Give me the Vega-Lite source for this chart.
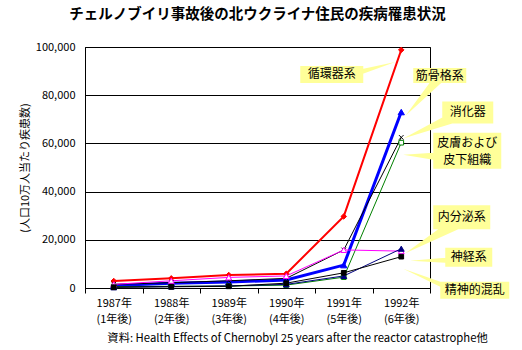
{
  "$schema": "https://vega.github.io/schema/vega-lite/v6.json",
  "width": 345,
  "height": 241,
  "autosize": {"type": "none"},
  "padding": {"left": 85, "top": 47, "right": 92, "bottom": 62},
  "background": "white",
  "title": {"text": "チェルノブイリ事故後の北ウクライナ住民の疾病罹患状況", "fontSize": 14.5, "fontWeight": "bold", "font": "Noto Sans CJK JP", "color": "black", "anchor": "middle", "offset": 19},
  "config": {
    "font": "Noto Sans CJK JP",
    "view": {"stroke": "black", "strokeWidth": 1},
    "axis": {"domainColor": "black", "labelColor": "black", "titleColor": "black", "tickColor": "black", "labelFontSize": 11, "titleFontSize": 11, "titleFontWeight": "normal", "labelFont": "Noto Sans CJK JP", "titleFont": "Noto Sans CJK JP"}
  },
  "data": {"values": [
    {"series": "循環器系", "year": "1987年 (1年後)", "value": 2900},
    {"series": "循環器系", "year": "1988年 (2年後)", "value": 4000},
    {"series": "循環器系", "year": "1989年 (3年後)", "value": 5400},
    {"series": "循環器系", "year": "1990年 (4年後)", "value": 5900},
    {"series": "循環器系", "year": "1991年 (5年後)", "value": 29700},
    {"series": "循環器系", "year": "1992年 (6年後)", "value": 98800},
    {"series": "筋骨格系", "year": "1987年 (1年後)", "value": 1000},
    {"series": "筋骨格系", "year": "1988年 (2年後)", "value": 2000},
    {"series": "筋骨格系", "year": "1989年 (3年後)", "value": 2500},
    {"series": "筋骨格系", "year": "1990年 (4年後)", "value": 3300},
    {"series": "筋骨格系", "year": "1991年 (5年後)", "value": 9500},
    {"series": "筋骨格系", "year": "1992年 (6年後)", "value": 73000},
    {"series": "消化器", "year": "1987年 (1年後)", "value": 1500},
    {"series": "消化器", "year": "1988年 (2年後)", "value": 2200},
    {"series": "消化器", "year": "1989年 (3年後)", "value": 3000},
    {"series": "消化器", "year": "1990年 (4年後)", "value": 4000},
    {"series": "消化器", "year": "1991年 (5年後)", "value": 15800},
    {"series": "消化器", "year": "1992年 (6年後)", "value": 62500},
    {"series": "皮膚および皮下組織", "year": "1987年 (1年後)", "value": 600},
    {"series": "皮膚および皮下組織", "year": "1988年 (2年後)", "value": 700},
    {"series": "皮膚および皮下組織", "year": "1989年 (3年後)", "value": 800},
    {"series": "皮膚および皮下組織", "year": "1990年 (4年後)", "value": 1200},
    {"series": "皮膚および皮下組織", "year": "1991年 (5年後)", "value": 4500},
    {"series": "皮膚および皮下組織", "year": "1992年 (6年後)", "value": 60300},
    {"series": "内分泌系", "year": "1987年 (1年後)", "value": 1500},
    {"series": "内分泌系", "year": "1988年 (2年後)", "value": 3000},
    {"series": "内分泌系", "year": "1989年 (3年後)", "value": 4400},
    {"series": "内分泌系", "year": "1990年 (4年後)", "value": 5000},
    {"series": "内分泌系", "year": "1991年 (5年後)", "value": 15800},
    {"series": "内分泌系", "year": "1992年 (6年後)", "value": 15300},
    {"series": "神経系", "year": "1987年 (1年後)", "value": 300},
    {"series": "神経系", "year": "1988年 (2年後)", "value": 600},
    {"series": "神経系", "year": "1989年 (3年後)", "value": 900},
    {"series": "神経系", "year": "1990年 (4年後)", "value": 1500},
    {"series": "神経系", "year": "1991年 (5年後)", "value": 5000},
    {"series": "神経系", "year": "1992年 (6年後)", "value": 16300},
    {"series": "精神的混乱", "year": "1987年 (1年後)", "value": 300},
    {"series": "精神的混乱", "year": "1988年 (2年後)", "value": 500},
    {"series": "精神的混乱", "year": "1989年 (3年後)", "value": 700},
    {"series": "精神的混乱", "year": "1990年 (4年後)", "value": 2000},
    {"series": "精神的混乱", "year": "1991年 (5年後)", "value": 6300},
    {"series": "精神的混乱", "year": "1992年 (6年後)", "value": 13000}
  ]},
  "encoding": {
    "x": {"field": "year", "type": "ordinal", "bandPosition": 0.5,
      "sort": ["1987年 (1年後)", "1988年 (2年後)", "1989年 (3年後)", "1990年 (4年後)", "1991年 (5年後)", "1992年 (6年後)"],
      "scale": {"type": "band", "paddingInner": 0, "paddingOuter": 0},
      "axis": {"title": "資料: Health Effects of Chernobyl 25 years after the reactor catastrophe他", "labelExpr": "split(datum.label, ' ')", "labelAngle": 0, "labelLineHeight": 16, "labelPadding": 4, "tickBand": "extent", "tickSize": 5, "grid": false, "titleX": 212, "titleAlign": "center", "titlePadding": 8, "titleFontSize": 11.3}},
    "y": {"field": "value", "type": "quantitative",
      "scale": {"domain": [0, 100000], "nice": false},
      "axis": {"title": "(人口10万人当たり疾患数)", "format": ",d", "values": [0, 20000, 40000, 60000, 80000, 100000], "grid": true, "gridColor": "black", "gridOpacity": 1, "ticks": false, "tickSize": 0, "labelPadding": 10, "titlePadding": 5}}
  },
  "layer": [
    {"mark": {"type": "line"},
     "encoding": {
       "color": {"field": "series", "type": "nominal", "legend": null, "scale": {"domain": ["循環器系", "筋骨格系", "消化器", "皮膚および皮下組織", "内分泌系", "神経系", "精神的混乱"], "range": ["#ff0000", "#0000ff", "#000000", "#008000", "#ff00ff", "#000080", "#000000"]}},
       "strokeWidth": {"field": "series", "type": "nominal", "legend": null, "scale": {"type": "ordinal", "domain": ["循環器系", "筋骨格系", "消化器", "皮膚および皮下組織", "内分泌系", "神経系", "精神的混乱"], "range": [2, 3, 1, 1, 1, 1, 1]}}
     }},
    {"mark": {"type": "point", "filled": true, "opacity": 1, "strokeWidth": 1},
     "encoding": {
       "stroke": {"field": "series", "type": "nominal", "legend": null, "scale": {"domain": ["循環器系", "筋骨格系", "消化器", "皮膚および皮下組織", "内分泌系", "神経系", "精神的混乱"], "range": ["#ff0000", "#0000ff", "#000000", "#008000", "#ff00ff", "#000080", "#000000"]}},
       "fill": {"field": "series", "type": "nominal", "legend": null, "scale": {"domain": ["循環器系", "筋骨格系", "消化器", "皮膚および皮下組織", "内分泌系", "神経系", "精神的混乱"], "range": ["#ff0000", "#0000ff", "#000000", "#ffffff", "#ffffff", "#000080", "#000000"]}},
       "shape": {"field": "series", "type": "nominal", "legend": null, "scale": {"domain": ["循環器系", "筋骨格系", "消化器", "皮膚および皮下組織", "内分泌系", "神経系", "精神的混乱"], "range": ["diamond", "triangle-up", "M-1,-1L1,1M-1,1L1,-1", "square", "triangle-up", "triangle-up", "square"]}},
       "size": {"field": "series", "type": "nominal", "legend": null, "scale": {"type": "ordinal", "domain": ["循環器系", "筋骨格系", "消化器", "皮膚および皮下組織", "内分泌系", "神経系", "精神的混乱"], "range": [30, 40, 20, 22, 35, 35, 22]}}
     }},
    {"transform": [{"filter": "datum.series === '循環器系' && datum.year === '1992年 (6年後)'"}],
     "layer": [
       {"mark": {"type": "point", "shape": "M-101,16H-38V33H-101Z M-39,19L-6,12L-39,24Z", "size": 4, "filled": true, "fill": "#ffff99", "strokeWidth": 0, "opacity": 1}},
       {"mark": {"type": "text", "dx": -69.5, "dy": 24.6, "fontSize": 12, "align": "center", "baseline": "middle", "color": "black"}, "encoding": {"text": {"field": "series"}}}
     ]},
    {"transform": [{"filter": "datum.series === '筋骨格系' && datum.year === '1992年 (6年後)'"}],
     "layer": [
       {"mark": {"type": "point", "shape": "M12,-44H65V-29H12Z M29,-30L41,-30L4,4Z", "size": 4, "filled": true, "fill": "#ffff99", "strokeWidth": 0, "opacity": 1}},
       {"mark": {"type": "text", "dx": 38.5, "dy": -36.5, "fontSize": 12, "align": "center", "baseline": "middle", "color": "black"}, "encoding": {"text": {"field": "series"}}}
     ]},
    {"transform": [{"filter": "datum.series === '消化器' && datum.year === '1992年 (6年後)'"}],
     "layer": [
       {"mark": {"type": "point", "shape": "M41,-36H92V-14H41Z M41,-20L51,-14L2,1Z", "size": 4, "filled": true, "fill": "#ffff99", "strokeWidth": 0, "opacity": 1}},
       {"mark": {"type": "text", "dx": 66.5, "dy": -25, "fontSize": 12, "align": "center", "baseline": "middle", "color": "black"}, "encoding": {"text": {"field": "series"}}}
     ]},
    {"transform": [{"filter": "datum.series === '皮膚および皮下組織' && datum.year === '1992年 (6年後)'"}],
     "layer": [
       {"mark": {"type": "point", "shape": "M32,-10H100V26H32Z M32,10L32,17L2,12Z", "size": 4, "filled": true, "fill": "#ffff99", "strokeWidth": 0, "opacity": 1}},
       {"mark": {"type": "text", "dx": 66, "dy": 0, "fontSize": 12, "align": "center", "baseline": "middle", "lineHeight": 17, "color": "black", "text": ["皮膚および", "皮下組織"]}}
     ]},
    {"transform": [{"filter": "datum.series === '内分泌系' && datum.year === '1992年 (6年後)'"}],
     "layer": [
       {"mark": {"type": "point", "shape": "M32,-46H89V-22H32Z M37,-22L57,-22L4,2Z", "size": 4, "filled": true, "fill": "#ffff99", "strokeWidth": 0, "opacity": 1}},
       {"mark": {"type": "text", "dx": 60.5, "dy": -34, "fontSize": 12, "align": "center", "baseline": "middle", "color": "black"}, "encoding": {"text": {"field": "series"}}}
     ]},
    {"transform": [{"filter": "datum.series === '神経系' && datum.year === '1992年 (6年後)'"}],
     "layer": [
       {"mark": {"type": "point", "shape": "M44,-1H91V18H44Z M44,9L44,14L9,12Z", "size": 4, "filled": true, "fill": "#ffff99", "strokeWidth": 0, "opacity": 1}},
       {"mark": {"type": "text", "dx": 67.5, "dy": 8.5, "fontSize": 12, "align": "center", "baseline": "middle", "color": "black"}, "encoding": {"text": {"field": "series"}}}
     ]},
    {"transform": [{"filter": "datum.series === '精神的混乱' && datum.year === '1992年 (6年後)'"}],
     "layer": [
       {"mark": {"type": "point", "shape": "M39,25H108V42H39Z M39,25L39,30L2,12Z", "size": 4, "filled": true, "fill": "#ffff99", "strokeWidth": 0, "opacity": 1}},
       {"mark": {"type": "text", "dx": 73.5, "dy": 33.5, "fontSize": 12, "align": "center", "baseline": "middle", "color": "black"}, "encoding": {"text": {"field": "series"}}}
     ]}
  ]
}
